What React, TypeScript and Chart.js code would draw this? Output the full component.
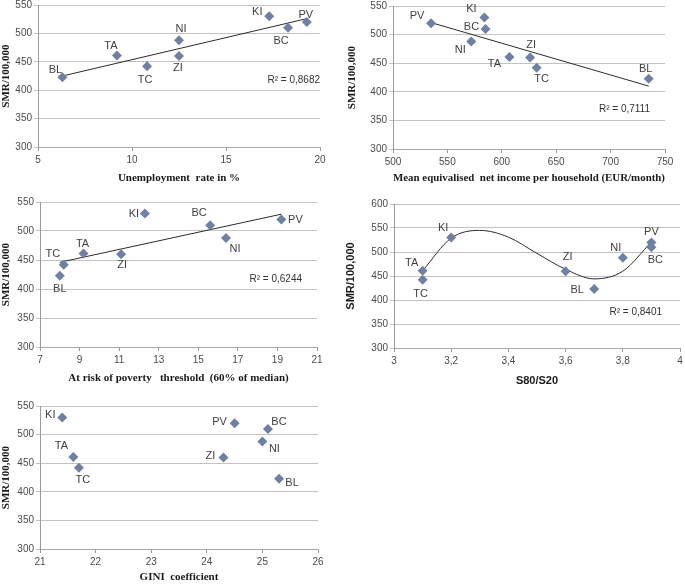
import React, { useEffect, useRef } from 'react';
import { Chart, registerables } from 'chart.js';

Chart.register(...registerables);

// ---------- DATA ----------
const districts = ['BL', 'TA', 'TC', 'NI', 'ZI', 'KI', 'BC', 'PV'];
const smr = [423, 461, 442, 488, 460, 530, 510, 520];

const unemployment = [6.3, 9.2, 10.8, 12.5, 12.5, 17.3, 18.3, 19.3];
const income = [735, 607, 632, 572, 626, 584, 585, 535];
const poverty = [8.0, 9.2, 8.2, 16.4, 11.1, 12.3, 15.6, 19.2];
const s80s20 = [3.7, 3.1, 3.1, 3.8, 3.6, 3.2, 3.9, 3.9];
const gini = [25.3, 21.6, 21.7, 25.0, 24.3, 21.4, 25.1, 24.5];

// trend lines
const unempTrendX = [6.3, 19.3];
const unempTrendY = [425, 526];
const incomeTrendX = [535, 735];
const incomeTrendY = [521, 410];
const povertyTrendX = [8.0, 19.2];
const povertyTrendY = [446, 529];
const s80TrendX = [3.1, 3.2, 3.3, 3.4, 3.5, 3.6, 3.7, 3.8, 3.9];
const s80TrendY = [461, 529, 545, 531, 497, 464, 444, 460, 521];

const r2Texts = ['R\u00b2 = 0,8682', 'R\u00b2 = 0,7111', 'R\u00b2 = 0,6244', 'R\u00b2 = 0,8401'];

// ---------- LAYOUT / STYLE ----------
// label offsets (px) in district order BL,TA,TC,NI,ZI,KI,BC,PV
const labelOffsets1 = [[-7, -7], [-6, -10], [-2, 14], [2, -11], [-1, 12], [-12, -4], [-7, 13], [-1, -7]];
const labelOffsets2 = [[-3, -10], [-15, 7], [5, 11], [-11, 9], [1, -13], [-13, -8], [-14, -2], [-14, -7]];
const labelOffsets3 = [[0, 13], [-1, -10], [-11, -11], [9, 11], [1, 11], [-11, 0], [-11, -12], [14, 1]];
const labelOffsets4 = [[-17, 1], [-11, -8], [-2, 14], [-7, -10], [2, -14], [-8, -10], [4, 13], [0, -10]];
const labelOffsets5 = [[13, 4], [-12, -11], [4, 12], [12, 8], [-13, -2], [-12, -2], [11, -7], [-15, -1]];

const MARKER = '#6f80a2';
const SANS = "'Liberation Sans', Arial, sans-serif";
const SERIF = "'Liberation Serif', 'Times New Roman', serif";

type Panel = {
  left: number; top: number; w: number; h: number;
  area: { left: number; top: number; right: number; bottom: number };
  x: number[]; xMin: number; xMax: number; xStep: number;
  yMax: number;
  xTitle: string; titleFont: string; xTitlePad: number; yTitlePad: number;
  trendX?: number[]; trendY?: number[]; curve?: boolean;
  r2?: string; r2Pos?: [number, number];
  offsets: number[][];
};

const panels: Panel[] = [
  {
    left: 0, top: 0, w: 340, h: 190,
    area: { left: 38, top: 5, right: 320, bottom: 147 },
    x: unemployment, xMin: 5, xMax: 20, xStep: 5, yMax: 550,
    xTitle: 'Unemployment  rate in %', titleFont: SERIF, xTitlePad: 5, yTitlePad: 0,
    trendX: unempTrendX, trendY: unempTrendY,
    r2: r2Texts[0], r2Pos: [320, 80], offsets: labelOffsets1,
  },
  {
    left: 340, top: 0, w: 345, h: 190,
    area: { left: 53, top: 6, right: 325, bottom: 149 },
    x: income, xMin: 500, xMax: 750, xStep: 50, yMax: 550,
    xTitle: 'Mean equivalised  net income per household (EUR/month)', titleFont: SERIF, xTitlePad: 5, yTitlePad: 6,
    trendX: incomeTrendX, trendY: incomeTrendY,
    r2: r2Texts[1], r2Pos: [310, 109], offsets: labelOffsets2,
  },
  {
    left: 0, top: 190, w: 340, h: 200,
    area: { left: 40, top: 12, right: 317, bottom: 157 },
    x: poverty, xMin: 7, xMax: 21, xStep: 2, yMax: 550,
    xTitle: 'At risk of poverty   threshold  (60% of median)', titleFont: SERIF, xTitlePad: 5, yTitlePad: 0,
    trendX: povertyTrendX, trendY: povertyTrendY,
    r2: r2Texts[2], r2Pos: [302, 89], offsets: labelOffsets3,
  },
  {
    left: 340, top: 190, w: 345, h: 200,
    area: { left: 54, top: 14, right: 340, bottom: 158 },
    x: s80s20, xMin: 3, xMax: 4, xStep: 0.2, yMax: 600,
    xTitle: 'S80/S20', titleFont: SANS, xTitlePad: 2, yTitlePad: 4,
    trendX: s80TrendX, trendY: s80TrendY, curve: true,
    r2: r2Texts[3], r2Pos: [322, 122], offsets: labelOffsets4,
  },
  {
    left: 0, top: 390, w: 340, h: 194,
    area: { left: 40, top: 16, right: 318, bottom: 159 },
    x: gini, xMin: 21, xMax: 26, xStep: 1, yMax: 550,
    xTitle: 'GINI  coefficient', titleFont: SERIF, xTitlePad: 0, yTitlePad: 0,
    offsets: labelOffsets5,
  },
];

const fmt = (v: number) => String(Math.round(v * 10) / 10).replace('.', ',');

const labelPlugin = {
  id: 'pointLabels',
  afterDatasetsDraw(chart: any) {
    const opts = chart.options.plugins.pointLabels;
    if (!opts) return;
    const ctx = chart.ctx;
    ctx.save();
    const meta = chart.getDatasetMeta(opts.datasetIndex);
    ctx.font = `11px ${SANS}`;
    ctx.fillStyle = '#404040';
    ctx.textAlign = 'center';
    ctx.textBaseline = 'middle';
    meta.data.forEach((el: any, i: number) => {
      const o = opts.offsets[i];
      ctx.fillText(opts.labels[i], el.x + o[0], el.y + o[1]);
    });
    if (opts.r2) {
      ctx.font = `10px ${SANS}`;
      ctx.textAlign = 'right';
      ctx.fillStyle = '#333';
      ctx.fillText(opts.r2, opts.r2Pos[0], opts.r2Pos[1]);
    }
    ctx.restore();
  },
};

function PanelChart({ p }: { p: Panel }) {
  const ref = useRef<HTMLCanvasElement | null>(null);
  useEffect(() => {
    const canvas = ref.current;
    if (!canvas) return;
    const points = p.x.map((xv, i) => ({ x: xv, y: smr[i] }));
    const datasets: any[] = [
      {
        type: 'scatter',
        data: points,
        pointStyle: 'rectRot',
        pointRadius: 5,
        pointHoverRadius: 5,
        backgroundColor: MARKER,
        borderColor: MARKER,
        borderWidth: 0,
        order: 1,
      },
    ];
    if (p.trendX && p.trendY) {
      datasets.push({
        type: 'line',
        data: p.trendX.map((xv, i) => ({ x: xv, y: p.trendY![i] })),
        borderColor: '#2b2b2b',
        borderWidth: 1,
        pointRadius: 0,
        fill: false,
        cubicInterpolationMode: p.curve ? 'monotone' : 'default',
        order: 2,
      });
    }
    const chart = new Chart(canvas, {
      type: 'scatter',
      data: { datasets },
      plugins: [labelPlugin],
      options: {
        responsive: false,
        animation: false,
        events: [],
        layout: { padding: { top: p.area.top, right: p.w - p.area.right, left: 0, bottom: 0 } },
        plugins: {
          legend: { display: false },
          tooltip: { enabled: false },
          pointLabels: { datasetIndex: 0, labels: districts, offsets: p.offsets, r2: p.r2, r2Pos: p.r2Pos },
        } as any,
        scales: {
          x: {
            type: 'linear',
            min: p.xMin,
            max: p.xMax,
            afterFit: (s: any) => {
              s.height = p.h - p.area.bottom;
              s.paddingLeft = 0;
              s.paddingRight = 0;
            },
            ticks: {
              stepSize: p.xStep,
              callback: (v: any) => fmt(Number(v)),
              font: { family: SANS, size: 10 },
              color: '#4a4a4a',
              padding: 3,
              maxRotation: 0,
              autoSkip: false,
            },
            grid: { drawOnChartArea: false, color: '#9a9a9a', tickLength: 4 },
            border: { color: '#a8a8a8' },
            title: {
              display: true,
              text: p.xTitle,
              font: { family: p.titleFont, size: 11, weight: 'bold' },
              color: '#1a1a1a',
              padding: { top: 0, bottom: p.xTitlePad },
            },
          },
          y: {
            type: 'linear',
            min: 300,
            max: p.yMax,
            afterFit: (s: any) => {
              s.width = p.area.left;
              s.paddingTop = 0;
              s.paddingBottom = 0;
            },
            ticks: {
              stepSize: 50,
              font: { family: SANS, size: 10 },
              color: '#4a4a4a',
              padding: 2,
            },
            grid: { color: '#c2c2c2', tickLength: 4 },
            border: { color: '#9a9a9a' },
            title: {
              display: true,
              text: 'SMR/100,000',
              font: { family: p.titleFont, size: 11, weight: 'bold' },
              color: '#1a1a1a',
              padding: { top: p.yTitlePad, bottom: 0 },
            },
          },
        },
      } as any,
    });
    return () => chart.destroy();
  }, [p]);
  return (
    <div style={{ position: 'absolute', left: p.left, top: p.top, width: p.w, height: p.h }}>
      <canvas ref={ref} width={p.w} height={p.h} style={{ width: p.w, height: p.h, display: 'block' }} />
    </div>
  );
}

export default function App() {
  return (
    <div style={{ position: 'absolute', left: 0, top: 0, width: 685, height: 584, background: '#fff', overflow: 'hidden' }}>
      {panels.map((p, i) => (
        <PanelChart key={i} p={p} />
      ))}
    </div>
  );
}
